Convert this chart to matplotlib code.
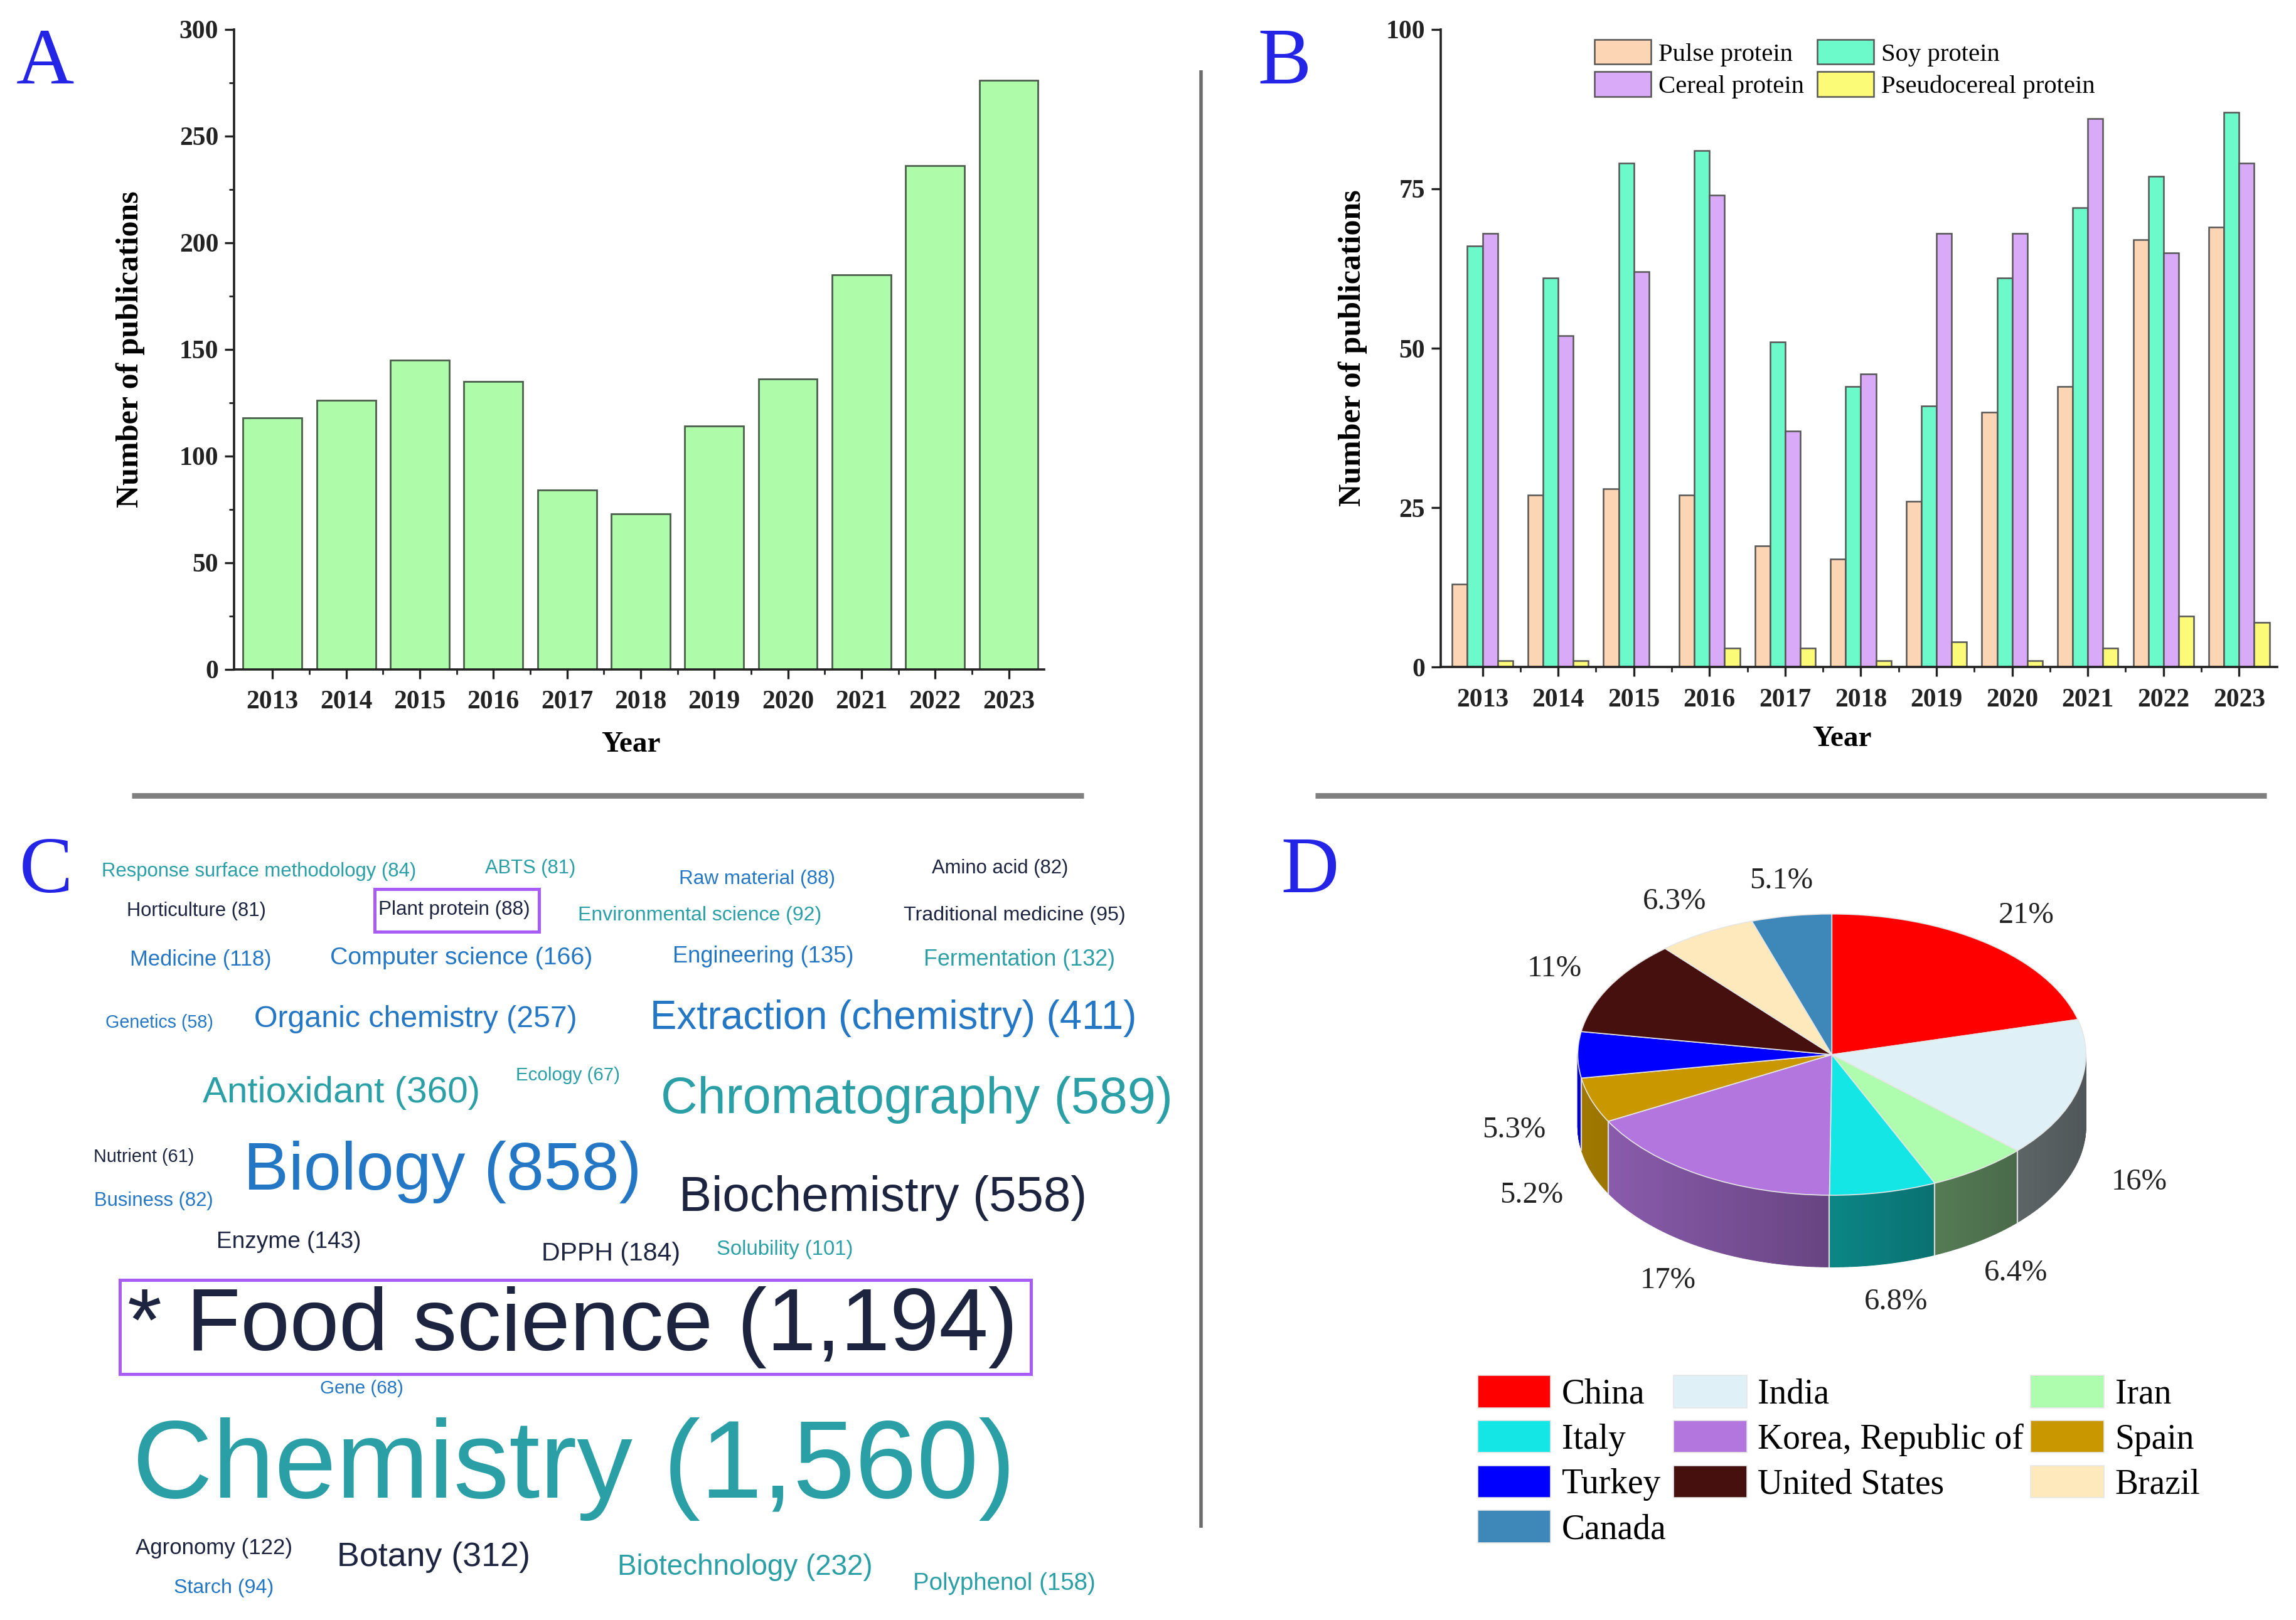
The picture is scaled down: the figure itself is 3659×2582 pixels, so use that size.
import numpy as np
import matplotlib
matplotlib.use('Agg')
import matplotlib.pyplot as plt
from matplotlib.patches import Polygon, Rectangle
from matplotlib.lines import Line2D
from matplotlib.ticker import MultipleLocator
from matplotlib.colors import to_rgb

# ---- data ----
years = list(range(2013, 2024))
total_pubs = [118, 126, 145, 135, 84, 73, 114, 136, 185, 236, 276]

protein_names = ['Pulse protein', 'Soy protein', 'Cereal protein', 'Pseudocereal protein']
pulse_pubs = [13, 27, 28, 27, 19, 17, 26, 40, 44, 67, 69]
soy_pubs = [66, 61, 79, 81, 51, 44, 41, 61, 72, 77, 87]
cereal_pubs = [68, 52, 62, 74, 37, 46, 68, 68, 86, 65, 79]
pseudo_pubs = [1, 1, 0, 3, 3, 1, 4, 1, 3, 8, 7]

terms = ['Response surface methodology', 'ABTS', 'Raw material', 'Amino acid',
         'Horticulture', 'Plant protein', 'Environmental science', 'Traditional medicine',
         'Medicine', 'Computer science', 'Engineering', 'Fermentation',
         'Genetics', 'Organic chemistry', 'Extraction (chemistry)',
         'Antioxidant', 'Ecology', 'Chromatography',
         'Nutrient', 'Business', 'Biology', 'Biochemistry',
         'Enzyme', 'DPPH', 'Solubility',
         '* Food science', 'Gene', 'Chemistry',
         'Agronomy', 'Botany', 'Biotechnology', 'Polyphenol', 'Starch']
term_counts = [84, 81, 88, 82,
               81, 88, 92, 95,
               118, 166, 135, 132,
               58, 257, 411,
               360, 67, 589,
               61, 82, 858, 558,
               143, 184, 101,
               1194, 68, 1560,
               122, 312, 232, 158, 94]

countries = ['China', 'India', 'Iran', 'Italy', 'Korea, Republic of', 'Spain',
             'Turkey', 'United States', 'Brazil', 'Canada']
country_share = [21, 16, 6.4, 6.8, 17, 5.2, 5.3, 11, 6.3, 5.1]

# ---- layout helpers (reference measured on a 1568 x 1106 grid) ----
W, H = 1568, 1106
def fx(px):
    return px / W
def fy(py):
    return 1 - py / H

plt.rcParams['font.family'] = ['Liberation Serif', 'DejaVu Serif']

fig = plt.figure(figsize=(3659 / 200, 2582 / 200), dpi=200)

letter_kw = dict(fontsize=46, color='#2424e6', va='baseline', ha='left')
fig.text(fx(11), fy(57), 'A', **letter_kw)
fig.text(fx(859), fy(57), 'B', **letter_kw)
fig.text(fx(13), fy(609), 'C', **letter_kw)
fig.text(fx(875), fy(609), 'D', **letter_kw)


def style_axis(ax):
    for s in ['top', 'right']:
        ax.spines[s].set_visible(False)
    for s in ['left', 'bottom']:
        ax.spines[s].set_linewidth(1.3)
        ax.spines[s].set_color('#222222')
    ax.tick_params(which='major', direction='out', length=5.5, width=1.2, labelsize=15, colors='#222222')
    ax.tick_params(which='minor', direction='out', length=3, width=1.0, colors='#222222')
    ax.tick_params(axis='x', which='major', pad=6.5)
    ax.set_xticks(years)
    ax.set_xticks([y + 0.5 for y in years[:-1]], minor=True)
    for lab in ax.get_xticklabels() + ax.get_yticklabels():
        lab.set_fontweight('bold')


# ---- A: total publications ----
axA = fig.add_axes([fx(160), fy(457), fx(713) - fx(160), fy(20) - fy(457)])
axA.bar(years, total_pubs, width=0.8, color='#aefcaa', edgecolor='#4b5e4b', linewidth=1.0)
axA.set_xlim(2012.48, 2023.48)
axA.set_ylim(0, 300)
axA.set_yticks(range(0, 301, 50))
axA.yaxis.set_minor_locator(MultipleLocator(25))
style_axis(axA)
axA.set_ylabel('Number of publications', fontsize=18, fontweight='bold')
axA.set_xlabel('Year', fontsize=17, fontweight='bold')
axA.yaxis.set_label_coords(-0.11, 0.5)
axA.xaxis.set_label_coords(0.49, -0.097)

# ---- B: publications by protein source ----
axB = fig.add_axes([fx(984), fy(455.5), fx(1555) - fx(984), fy(20) - fy(455.5)])
series = [pulse_pubs, soy_pubs, cereal_pubs, pseudo_pubs]
bar_cols = ['#fcd5b5', '#6cfacb', '#d8aaf8', '#fbfb78']
offsets = [-0.3, -0.1, 0.1, 0.3]
handles = []
x = np.array(years, dtype=float)
for vals, col, off, name in zip(series, bar_cols, offsets, protein_names):
    h = axB.bar(x + off, vals, width=0.2, color=col, edgecolor='#555555', linewidth=0.9, label=name)
    handles.append(h)
axB.set_xlim(2012.45, 2023.5)
axB.set_ylim(0, 100)
axB.set_yticks([0, 25, 50, 75, 100])
style_axis(axB)
axB.set_ylabel('Number of publications', fontsize=18, fontweight='bold')
axB.set_xlabel('Year', fontsize=17, fontweight='bold')
axB.yaxis.set_label_coords(-0.088, 0.5)
axB.xaxis.set_label_coords(0.48, -0.092)
fig.legend([handles[0], handles[2], handles[1], handles[3]],
           [protein_names[0], protein_names[2], protein_names[1], protein_names[3]],
           ncol=2, loc='upper left', bbox_to_anchor=(fx(1089), fy(27)),
           bbox_transform=fig.transFigure, frameon=False, fontsize=14.7,
           handlelength=2.2, handleheight=1.1, handletextpad=0.3,
           columnspacing=0.5, labelspacing=0.22, borderpad=0, borderaxespad=0)

# ---- separators ----
fig.add_artist(Line2D([fx(90), fx(740)], [fy(543), fy(543)], transform=fig.transFigure,
                      color='#808080', lw=3.2, solid_capstyle='butt'))
fig.add_artist(Line2D([fx(898), fx(1548)], [fy(543), fy(543)], transform=fig.transFigure,
                      color='#808080', lw=3.2, solid_capstyle='butt'))
fig.add_artist(Line2D([fx(820), fx(820)], [fy(48), fy(1043)], transform=fig.transFigure,
                      color='#6e6e6e', lw=2.0, solid_capstyle='butt'))

# ---- C: word cloud ----
palette = {'t': '#2a9fa6', 'b': '#2477c4', 'd': '#1c2440'}
cloud_layout = [  # (x, y, colour) per term, in reference grid pixels
    (177, 595, 't'), (362, 593, 't'), (517, 600, 'b'), (683, 593, 'd'),
    (134, 622, 'd'), (310, 621, 'd'), (478, 625, 't'), (693, 625, 'd'),
    (137, 655, 'b'), (315, 654, 'b'), (521, 653, 'b'), (696, 655, 't'),
    (109, 698, 'b'), (284, 696, 'b'), (610, 695, 'b'),
    (233, 746, 't'), (388, 734, 't'), (626, 751, 't'),
    (98, 790, 'd'), (105, 820, 'b'), (302, 800, 'b'), (603, 818, 'd'),
    (197, 848, 'd'), (417, 856, 'd'), (536, 853, 't'),
    (391, 906, 'd'), (247, 948, 'b'), (392, 1003, 't'),
    (146, 1057, 'd'), (296, 1063, 'd'), (509, 1070, 't'), (686, 1081, 't'), (153, 1084, 'b'),
]
for term, cnt, (px, py, ck) in zip(terms, term_counts, cloud_layout):
    size = 0.84 * (9.8 + 0.0424 * cnt)
    fig.text(fx(px), fy(py), f'{term} ({cnt:,})', ha='center', va='center',
             fontsize=size, color=palette[ck], family=['Liberation Sans', 'DejaVu Sans'])

for (x0, y0, x1, y1) in [(256, 607, 368, 636), (82, 874, 704, 938)]:
    fig.add_artist(Rectangle((fx(x0), fy(y1)), fx(x1) - fx(x0), fy(y0) - fy(y1),
                             transform=fig.transFigure, fill=False,
                             edgecolor='#a65cf5', linewidth=1.8))

# ---- D: 3D-style pie ----
pie_cols = ['#ff0000', '#dff1f7', '#aefcae', '#14e6e6', '#b276de', '#c99700',
            '#0000ff', '#45100e', '#fde9bb', '#3d88b8']
cx, cy, rx, ry = 1251, 720, 173.5, 96
axD = fig.add_axes([fx(cx - 1.4 * rx), fy(cy + 1.9 * ry), 2.8 * rx / W, 3.3 * ry / H])
wedges, _ = axD.pie(country_share, colors=pie_cols, startangle=90, counterclock=False,
                    radius=1, wedgeprops=dict(edgecolor='#e6e6e6', linewidth=0.6))
axD.set_aspect('auto')
axD.set_xlim(-1.4, 1.4)
axD.set_ylim(-1.9, 1.4)
depth = 49 / ry

for w, col in zip(wedges, pie_cols):
    rgb = np.array(to_rgb(col))
    lo, hi = w.theta1, w.theta2
    n = max(int(hi - lo), 2)
    edges = np.linspace(lo, hi, n + 1)
    for a, b in zip(edges[:-1], edges[1:]):
        m = np.radians((a + b) / 2)
        if np.sin(m) > 0:
            continue
        ta, tb = np.radians(a), np.radians(b)
        shade = np.clip(rgb * (0.58 - 0.22 * np.cos(m)), 0, 1)
        pts = [(np.cos(ta), np.sin(ta)), (np.cos(tb), np.sin(tb)),
               (np.cos(tb), np.sin(tb) - depth), (np.cos(ta), np.sin(ta) - depth)]
        axD.add_patch(Polygon(pts, closed=True, facecolor=shade, edgecolor=shade,
                              lw=0.4, zorder=0.5))
    t = np.radians(lo)
    if np.sin(t) < 0:
        axD.plot([np.cos(t), np.cos(t)], [np.sin(t), np.sin(t) - depth],
                 color='#d8d8d8', lw=0.8, zorder=0.7)

for w, v in zip(wedges, country_share):
    m = np.radians((w.theta1 + w.theta2) / 2)
    lx, ly = 1.25 * np.cos(m), 1.25 * np.sin(m)
    if np.sin(m) < 0.1:
        ly -= depth * 1.05
    if -0.5 < np.sin(m) < -0.2:
        ly -= 0.06
    axD.text(lx, ly, f'{v:g}%', ha='center', va='center', fontsize=17.5, color='#222222')

order = [i for c in range(3) for i in range(c, len(countries), 3)]
fig.legend([wedges[i] for i in order], [countries[i] for i in order], ncol=3,
           loc='upper left', bbox_to_anchor=(fx(1009), fy(939)),
           bbox_transform=fig.transFigure, frameon=False, fontsize=20,
           handlelength=2.1, handleheight=1.05, handletextpad=0.32,
           columnspacing=0.2, labelspacing=0.27, borderpad=0, borderaxespad=0)

fig.savefig('out.png', dpi=200)
